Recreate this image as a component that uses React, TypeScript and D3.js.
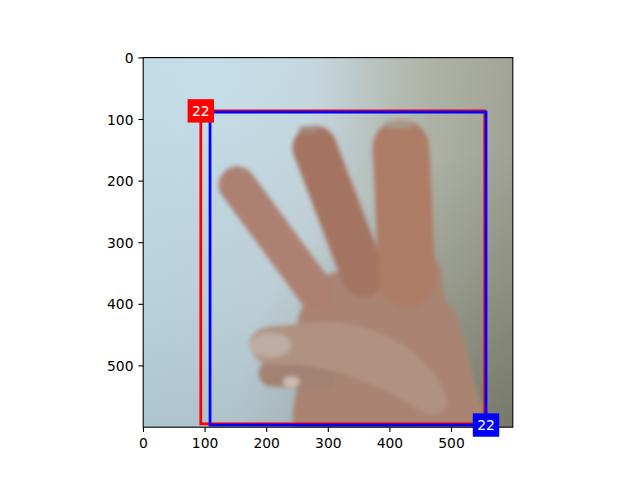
import React from "react";
import * as d3 from "d3";

// image size (pixels) and axis ticks
const imgWidth = 600;
const imgHeight = 600;
const xTicks = [0, 100, 200, 300, 400, 500];
const yTicks = [0, 100, 200, 300, 400, 500];

// bounding boxes [x1, y1, x2, y2] and labels
const boxNames = ["pred", "truth"];
const boxCoords = [
  [93, 86, 554, 594],
  [108, 88, 556, 596],
];
const boxLabels = ["22", "22"];
const boxColors = ["#ff0000", "#0000ff"];

// rough sketch of the photographed hand, in image pixel coordinates
const palmOutline: [number, number][] = [
  [250, 606], [248, 540], [258, 500], [250, 430], [262, 398], [300, 352],
  [340, 345], [400, 345], [476, 330], [490, 390], [505, 410], [522, 465],
  [537, 525], [550, 606],
];
const thumbOutline: [number, number][] = [
  [172, 462], [186, 442], [240, 433], [318, 430], [380, 446], [430, 472],
  [476, 520], [492, 566], [468, 578], [404, 545], [332, 515], [262, 500],
  [190, 493],
];
const fingerSegments = [
  { x0: 152, y0: 206, x1: 280, y1: 380, w: 60, c: "#ad8172" },
  { x0: 278, y0: 146, x1: 357, y1: 352, w: 72, c: "#a47362" },
  { x0: 418, y0: 146, x1: 428, y1: 360, w: 92, c: "#ad7b66" },
  { x0: 208, y0: 512, x1: 290, y1: 520, w: 42, c: "#a28272" },
];
const nailSpots = [
  { cx: 206, cy: 466, rx: 34, ry: 20, c: "#bfaca2" },
  { cx: 240, cy: 526, rx: 14, ry: 9, c: "#cbbdb2" },
  { cx: 414, cy: 108, rx: 24, ry: 7, c: "#a8998b" },
  { cx: 268, cy: 116, rx: 17, ry: 6, c: "#a08c80" },
];

const W = 640;
const H = 480;
const axW = 369.6;
const axLeft = 80 + (496 - axW) / 2;
const axTop = 57.6;
const fs = 13.89;

export default function App() {
  const x = d3.scaleLinear().domain([-0.5, imgWidth - 0.5]).range([axLeft, axLeft + axW]);
  const y = d3.scaleLinear().domain([-0.5, imgHeight - 0.5]).range([axTop, axTop + axW]);
  const k = axW / imgWidth;
  const shape = d3
    .line<[number, number]>()
    .x((d) => x(d[0]))
    .y((d) => y(d[1]))
    .curve(d3.curveCatmullRomClosed);
  const palmPath = shape(palmOutline) as string;
  const thumbPath = shape(thumbOutline) as string;
  const x0 = x(-0.5), x1 = x(imgWidth - 0.5), y0 = y(-0.5), y1 = y(imgHeight - 0.5);
  const tickLen = 4.86;
  return (
    <div style={{ position: "absolute", left: 0, top: 0 }}>
      <svg width={W} height={H} style={{ display: "block", background: "#fff" }} fontFamily="DejaVu Sans">
        <defs>
          <clipPath id="ax">
            <rect x={x0} y={y0} width={x1 - x0} height={y1 - y0} />
          </clipPath>
          <linearGradient id="bgH" x1="0" y1="0" x2="1" y2="0">
            <stop offset="0" stopColor="#bfd9e5" />
            <stop offset="0.45" stopColor="#c4d3d8" />
            <stop offset="0.78" stopColor="#afb3a7" />
            <stop offset="1" stopColor="#a1a496" />
          </linearGradient>
          <linearGradient id="bgV" x1="0" y1="0" x2="0" y2="1">
            <stop offset="0" stopColor="#3a4a50" stopOpacity="0" />
            <stop offset="0.6" stopColor="#3a4a50" stopOpacity="0.04" />
            <stop offset="1" stopColor="#3a4a50" stopOpacity="0.14" />
          </linearGradient>
          <radialGradient id="dark" cx="1" cy="1" r="0.75">
            <stop offset="0" stopColor="#55553d" stopOpacity="0.45" />
            <stop offset="1" stopColor="#55553d" stopOpacity="0" />
          </radialGradient>
          <radialGradient id="glow" cx="0.2" cy="0.08" r="0.45">
            <stop offset="0" stopColor="#c8e2ee" stopOpacity="0.7" />
            <stop offset="1" stopColor="#c8e2ee" stopOpacity="0" />
          </radialGradient>
          <filter id="soft">
            <feGaussianBlur stdDeviation="2" />
          </filter>
        </defs>
        <g clipPath="url(#ax)">
          <rect x={x0} y={y0} width={x1 - x0} height={y1 - y0} fill="url(#bgH)" />
          <rect x={x0} y={y0} width={x1 - x0} height={y1 - y0} fill="url(#glow)" />
          <rect x={x0} y={y0} width={x1 - x0} height={y1 - y0} fill="url(#bgV)" />
          <rect x={x0} y={y0} width={x1 - x0} height={y1 - y0} fill="url(#dark)" />
          <g filter="url(#soft)">
            <path d={palmPath} fill="#a98472" />
            {fingerSegments.map((f, i) => (
              <line
                key={i}
                x1={x(f.x0)}
                y1={y(f.y0)}
                x2={x(f.x1)}
                y2={y(f.y1)}
                stroke={f.c}
                strokeWidth={f.w * k}
                strokeLinecap="round"
              />
            ))}
            <path d={thumbPath} fill="#b09281" />
            {nailSpots.map((n, i) => (
              <ellipse key={i} cx={x(n.cx)} cy={y(n.cy)} rx={n.rx * k} ry={n.ry * k} fill={n.c} />
            ))}
          </g>
        </g>
        {boxCoords.map((b, i) => (
          <rect
            key={boxNames[i]}
            x={x(b[0])}
            y={y(b[1])}
            width={x(b[2]) - x(b[0])}
            height={y(b[3]) - y(b[1])}
            fill="none"
            stroke={boxColors[i]}
            strokeWidth={2.78}
          />
        ))}
        {/* spines */}
        <rect x={x0} y={y0} width={x1 - x0} height={y1 - y0} fill="none" stroke="#000" strokeWidth={1.1} />
        {xTicks.map((t) => (
          <g key={"x" + t}>
            <line x1={x(t)} x2={x(t)} y1={y1} y2={y1 + tickLen} stroke="#000" strokeWidth={1.1} />
            <text x={x(t)} y={447.7} fontSize={fs} textAnchor="middle" fill="#000">
              {t}
            </text>
          </g>
        ))}
        {yTicks.map((t) => (
          <g key={"y" + t}>
            <line x1={x0} x2={x0 - tickLen} y1={y(t)} y2={y(t)} stroke="#000" strokeWidth={1.1} />
            <text x={x0 - tickLen - 4.86} y={y(t) + 5.05} fontSize={fs} textAnchor="end" fill="#000">
              {t}
            </text>
          </g>
        ))}
        {boxCoords.map((b, i) => {
          const cx = i === 0 ? x(b[0]) : x(b[2]);
          const cy = i === 0 ? y(b[1]) : y(b[3]);
          return (
            <g key={"l" + i}>
              <rect x={cx - 13.2} y={cy - 11.7} width={26.4} height={23.4} fill={boxColors[i]} />
              <text x={cx} y={cy + 5} fontSize={fs} textAnchor="middle" fill="#fff">
                {boxLabels[i]}
              </text>
            </g>
          );
        })}
      </svg>
    </div>
  );
}
